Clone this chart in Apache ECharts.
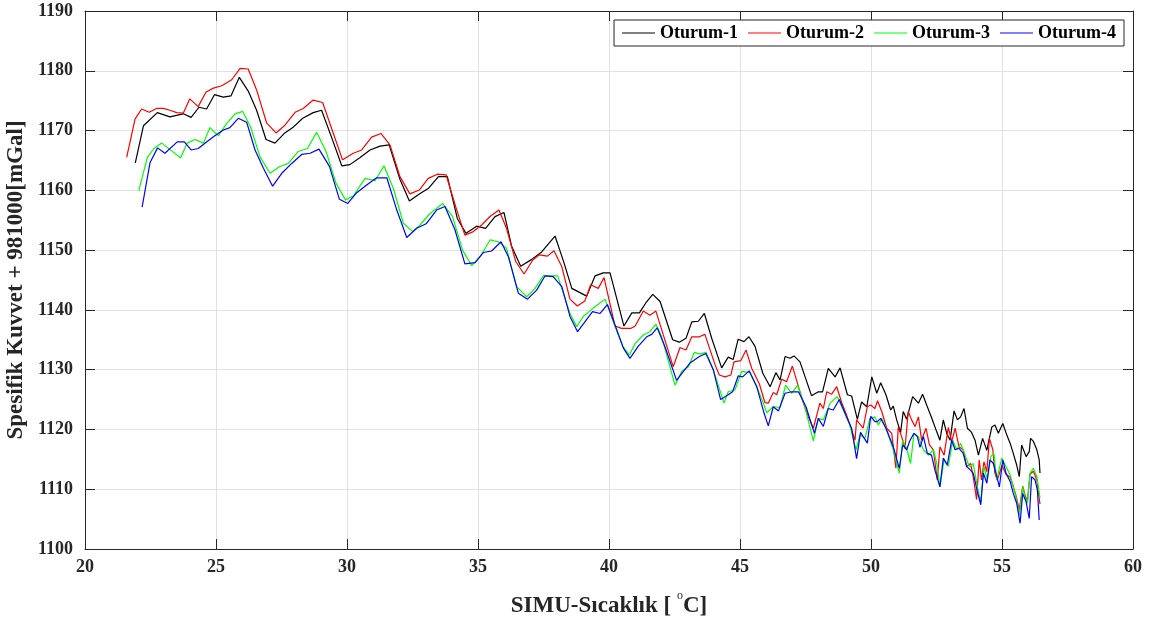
<!DOCTYPE html>
<html>
<head>
<meta charset="utf-8">
<script src="https://cdn.jsdelivr.net/npm/echarts@6/dist/echarts.min.js"></script>
<style>html,body{margin:0;padding:0;background:#fff}#c{width:1154px;height:622px}</style>
</head>
<body>
<div id="c"></div>
<script>
const seriesNames = ['Oturum-1','Oturum-2','Oturum-3','Oturum-4'];
const xTicks = [20,25,30,35,40,45,50,55,60];
const yTicks = [1100,1110,1120,1130,1140,1150,1160,1170,1180,1190];

const tempO1 = [21.92,22.23,22.76,23.24,23.75,24.05,24.35,24.64,24.94,25.28,25.57,25.89,26.23,26.55,26.91,27.25,27.6,27.93,28.31,28.71,29.03,29.45,29.8,30.11,30.5,30.88,31.26,31.61,32.02,32.38,32.76,33.1,33.49,33.83,34.21,34.54,34.95,35.29,35.65,35.99,36.28,36.63,37.05,37.43,37.94,38.28,38.58,39.15,39.47,39.78,40.04,40.57,40.87,41.16,41.41,41.67,41.95,42.43,42.68,42.94,43.16,43.41,43.64,43.92,44.3,44.55,44.74,44.93,45.15,45.34,45.57,45.87,46.15,46.37,46.53,46.72,46.91,47.06,47.29,47.73,47.99,48.15,48.37,48.63,48.82,49.1,49.26,49.48,49.64,49.84,50.03,50.22,50.37,50.57,50.75,50.85,50.98,51.13,51.23,51.36,51.59,51.81,51.97,52.15,52.31,52.51,52.63,52.76,52.89,53.02,53.17,53.3,53.42,53.55,53.68,53.84,53.97,54.1,54.26,54.42,54.61,54.73,54.86,55.03,55.18,55.31,55.43,55.56,55.66,55.75,55.92,56.04,56.09,56.2,56.33,56.42,56.45];
const gravO1 = [1164.6,1170.8,1173.0,1172.3,1172.8,1172.2,1173.9,1173.6,1176.0,1175.6,1175.8,1178.9,1176.6,1173.4,1168.5,1167.9,1169.5,1170.5,1172.05,1173.0,1173.4,1168.4,1164.1,1164.3,1165.5,1166.75,1167.4,1167.6,1161.85,1158.2,1159.4,1160.3,1162.3,1162.3,1155.3,1152.8,1154.0,1153.65,1155.6,1156.3,1150.7,1147.3,1148.45,1149.7,1152.35,1147.9,1143.6,1142.3,1145.7,1146.2,1146.2,1137.3,1139.5,1139.5,1141.2,1142.6,1141.4,1135.0,1134.6,1135.25,1138.0,1138.1,1139.4,1135.25,1130.3,1132.1,1131.7,1135.1,1134.7,1135.5,1133.95,1129.4,1127.15,1129.5,1128.3,1132.2,1131.9,1132.3,1131.3,1125.65,1126.3,1126.3,1130.2,1128.8,1130.3,1125.8,1125.6,1121.7,1124.6,1123.8,1128.8,1126.05,1127.8,1125.8,1123.25,1123.9,1121.6,1119.5,1123.0,1121.7,1125.5,1124.4,1125.9,1123.8,1122.0,1119.6,1118.2,1121.6,1119.35,1118.2,1123.1,1121.6,1122.1,1123.5,1120.2,1119.5,1118.2,1115.7,1118.5,1116.5,1120.4,1120.75,1119.35,1121.0,1119.1,1117.7,1116.0,1114.05,1112.1,1117.4,1115.45,1116.3,1118.5,1118.0,1116.6,1114.9,1112.7];

const tempO2 = [21.59,21.91,22.16,22.45,22.73,22.99,23.24,23.5,23.75,24.0,24.32,24.62,24.9,25.22,25.6,25.92,26.23,26.55,26.93,27.29,27.63,28.02,28.33,28.71,29.07,29.48,29.83,30.24,30.56,30.94,31.3,31.64,32.02,32.4,32.76,33.1,33.45,33.78,34.19,34.5,34.82,35.14,35.48,35.8,36.09,36.44,36.76,37.09,37.34,37.65,37.9,38.2,38.51,38.79,39.08,39.3,39.59,39.81,40.23,40.48,40.83,41.0,41.31,41.56,41.79,42.45,42.71,42.94,43.16,43.45,43.66,44.05,44.21,44.43,44.65,44.77,45.03,45.23,45.45,45.74,45.95,46.08,46.27,46.4,46.59,46.78,47.0,47.23,47.42,47.61,47.8,48.05,48.18,48.31,48.5,48.69,48.88,49.07,49.39,49.45,49.7,49.86,49.99,50.15,50.25,50.41,50.6,50.79,50.95,51.04,51.17,51.3,51.42,51.55,51.68,51.81,51.93,52.1,52.23,52.38,52.53,52.63,52.79,52.95,53.08,53.21,53.36,53.52,53.65,53.8,53.9,54.03,54.13,54.22,54.31,54.42,54.52,54.65,54.73,54.82,55.0,55.15,55.31,55.43,55.56,55.66,55.79,55.88,55.97,56.07,56.2,56.33,56.45];
const gravO2 = [1165.5,1171.9,1173.6,1173.05,1173.7,1173.7,1173.4,1173.0,1172.9,1175.3,1174.0,1176.45,1177.1,1177.5,1178.5,1180.4,1180.3,1176.8,1171.3,1169.6,1170.9,1173.05,1173.7,1175.1,1174.7,1169.5,1165.1,1166.2,1166.75,1168.9,1169.5,1167.6,1162.3,1159.4,1160.05,1162.0,1162.7,1162.6,1156.7,1152.5,1153.1,1154.2,1155.7,1156.7,1153.6,1148.1,1146.0,1148.35,1149.2,1149.0,1149.9,1147.2,1141.8,1140.65,1141.5,1144.2,1143.6,1145.4,1137.3,1136.9,1136.9,1137.3,1139.8,1139.1,1139.8,1130.5,1133.7,1133.3,1135.5,1135.5,1135.9,1130.8,1129.1,1128.8,1129.1,1131.3,1131.5,1133.3,1130.2,1127.6,1124.5,1124.4,1126.2,1125.8,1128.4,1128.0,1130.6,1127.15,1124.4,1122.1,1120.2,1124.4,1123.5,1126.3,1125.9,1127.15,1124.5,1122.4,1118.2,1121.6,1120.2,1123.8,1124.1,1123.5,1124.8,1123.0,1120.2,1119.35,1113.5,1120.35,1118.8,1116.85,1123.0,1121.6,1120.5,1122.1,1118.2,1120.2,1117.4,1116.6,1111.55,1117.1,1115.7,1120.35,1117.95,1120.2,1117.1,1116.6,1113.8,1114.3,1112.1,1108.3,1114.9,1111.55,1114.6,1112.95,1118.5,1116.6,1112.7,1111.55,1114.0,1112.5,1112.0,1110.5,1108.5,1106.5,1110.5,1109.0,1108.0,1112.5,1113.0,1111.5,1107.5];

const tempO3 = [22.05,22.38,22.63,22.93,23.31,23.65,23.9,24.2,24.52,24.77,25.09,25.41,25.73,26.02,26.32,26.68,27.06,27.42,27.76,28.14,28.49,28.84,29.2,29.58,29.94,30.24,30.69,31.07,31.41,31.77,32.15,32.51,32.79,33.14,33.65,34.03,34.41,34.76,35.08,35.46,35.77,36.09,36.47,36.86,37.18,37.49,38.04,38.51,38.77,39.02,39.4,39.85,40.23,40.52,40.78,41.0,41.31,41.56,41.79,42.01,42.52,42.77,43.03,43.26,43.47,43.7,43.98,44.39,44.55,44.81,45.06,45.38,45.64,45.89,46.02,46.27,46.53,46.74,46.97,47.2,47.45,47.8,47.99,48.18,48.44,48.71,48.94,49.17,49.43,49.58,49.77,49.96,50.15,50.28,50.41,50.6,50.85,51.08,51.21,51.36,51.51,51.64,51.81,52.0,52.19,52.38,52.51,52.63,52.79,52.95,53.12,53.27,53.42,53.59,53.75,53.9,54.06,54.19,54.31,54.44,54.57,54.69,54.8,54.99,55.15,55.31,55.43,55.56,55.66,55.79,55.88,55.97,56.07,56.2,56.33,56.45];
const gravO3 = [1159.9,1165.5,1167.0,1167.9,1166.6,1165.4,1167.9,1168.5,1167.9,1170.5,1169.1,1171.2,1172.8,1173.2,1170.6,1165.6,1162.85,1163.95,1164.5,1166.5,1167.0,1169.7,1166.5,1161.2,1158.4,1159.05,1162.0,1161.6,1164.1,1160.3,1154.5,1153.1,1154.2,1156.0,1157.8,1155.6,1150.0,1147.4,1148.9,1151.7,1151.4,1150.3,1143.9,1142.2,1143.6,1145.7,1145.7,1139.4,1137.2,1138.9,1140.3,1141.8,1137.2,1133.95,1132.45,1134.4,1135.8,1136.35,1137.6,1135.5,1127.4,1129.7,1130.5,1132.9,1132.6,1132.9,1130.0,1124.4,1126.3,1126.6,1129.7,1129.5,1127.15,1124.4,1122.8,1123.8,1123.7,1127.4,1126.05,1127.4,1124.2,1118.1,1121.85,1121.6,1124.4,1125.5,1123.25,1121.0,1116.6,1119.1,1118.5,1121.85,1122.1,1120.75,1121.85,1119.9,1116.6,1112.7,1118.2,1116.85,1114.3,1119.35,1118.8,1116.6,1115.7,1116.6,1114.3,1110.4,1114.9,1113.8,1118.2,1116.6,1117.7,1115.7,1113.8,1114.3,1110.4,1107.9,1113.8,1111.55,1115.45,1116.0,1111.55,1115.2,1113.8,1112.4,1110.4,1108.2,1105.7,1110.4,1108.75,1107.65,1112.7,1113.5,1112.1,1108.5];

const tempO4 = [22.18,22.48,22.77,23.05,23.52,23.79,24.05,24.32,24.64,24.94,25.28,25.53,25.85,26.17,26.49,26.81,27.16,27.51,27.89,28.27,28.59,28.93,29.33,29.71,30.03,30.37,30.75,31.13,31.52,31.9,32.28,32.66,33.02,33.42,33.74,34.12,34.5,34.89,35.2,35.52,35.88,36.16,36.54,36.89,37.24,37.56,37.87,38.2,38.51,38.8,39.08,39.37,39.66,39.94,40.29,40.55,40.8,41.12,41.44,41.63,41.84,42.14,42.58,42.84,43.09,43.45,43.7,43.98,44.26,44.55,44.72,44.93,45.1,45.35,45.64,45.92,46.08,46.27,46.47,46.72,46.97,47.23,47.52,47.84,47.99,48.18,48.37,48.56,48.79,49.07,49.26,49.45,49.6,49.86,49.99,50.15,50.24,50.37,50.57,50.85,51.08,51.21,51.36,51.49,51.64,51.77,51.87,52.0,52.15,52.31,52.44,52.63,52.76,52.91,53.08,53.21,53.36,53.52,53.65,53.8,53.9,54.06,54.19,54.29,54.42,54.54,54.67,54.8,54.9,55.03,55.15,55.31,55.43,55.56,55.69,55.79,55.92,56.04,56.13,56.26,56.35,56.42];
const gravO4 = [1157.2,1164.6,1167.1,1166.2,1168.1,1168.1,1166.75,1167.0,1168.1,1169.1,1170.1,1170.5,1172.05,1171.4,1166.75,1163.7,1160.7,1162.85,1164.5,1166.0,1166.2,1166.9,1164.0,1158.5,1157.8,1159.6,1160.9,1162.1,1162.1,1156.7,1152.1,1153.65,1154.4,1156.7,1157.3,1153.4,1147.7,1147.9,1149.6,1149.85,1151.4,1148.9,1142.8,1141.8,1143.3,1145.7,1145.55,1143.9,1138.9,1136.35,1138.0,1139.7,1139.4,1140.9,1136.75,1133.6,1131.9,1133.95,1135.5,1135.9,1137.0,1133.8,1128.2,1129.7,1131.1,1132.2,1132.7,1130.0,1125.0,1125.8,1126.3,1128.95,1128.8,1129.8,1127.15,1122.7,1120.6,1123.8,1123.1,1126.05,1126.3,1126.3,1123.8,1119.35,1121.85,1120.5,1123.5,1123.25,1125.0,1122.1,1120.2,1115.1,1119.5,1117.7,1122.2,1121.3,1121.3,1121.85,1120.2,1117.1,1113.5,1117.4,1116.6,1118.2,1119.35,1118.8,1117.0,1118.8,1116.0,1115.7,1113.2,1110.4,1115.2,1114.05,1118.2,1116.6,1116.85,1116.0,1113.8,1113.2,1112.7,1109.6,1107.4,1112.7,1111.0,1114.9,1114.3,1112.1,1110.4,1114.9,1112.7,1111.3,1109.3,1107.65,1104.3,1109.3,1107.9,1105.1,1112.1,1111.55,1109.9,1104.85];

const seriesTemps = [tempO1, tempO2, tempO3, tempO4];
const seriesGravs = [gravO1, gravO2, gravO3, gravO4];
const seriesColors = ['#000000','#ff0000','#00ff00','#0000ff'];

const FONT = "'Liberation Serif','Times New Roman',serif";
const chart = echarts.init(document.getElementById('c'), null, {renderer:'canvas'});

const zip = (xs, ys) => xs.map((x, i) => [x, ys[i]]);

const axisCommon = {
  axisLine: {show: true, onZero: false, lineStyle: {color: '#262626', width: 1}},
  axisTick: {show: true, inside: true, length: 10, lineStyle: {color: '#262626', width: 1}}
};

chart.setOption({
  animation: false,
  backgroundColor: '#ffffff',
  grid: {left: 85, right: 21, top: 11, bottom: 73, containLabel: false, outerBoundsMode: 'none'},
  legend: {
    data: seriesNames,
    right: 30, top: 20,
    orient: 'horizontal',
    icon: 'rect',
    itemWidth: 33, itemHeight: 1.2, itemGap: 10,
    padding: [4, 8],
    borderColor: '#262626', borderWidth: 1, backgroundColor: '#ffffff',
    textStyle: {fontFamily: FONT, fontWeight: 'bold', fontSize: 18, color: '#000', lineHeight: 17}
  },
  xAxis: [{
    type: 'value', min: xTicks[0], max: xTicks[xTicks.length-1], interval: 5,
    ...axisCommon,
    axisLabel: {fontFamily: FONT, fontWeight: 'bold', fontSize: 18, color: '#262626', margin: 9},
    splitLine: {show: true, lineStyle: {color: '#e1e1e1', width: 1}},
    name: '{a|SIMU-Sıcaklık [ }{d|o}{a|C]}', nameLocation: 'middle', nameGap: 41,
    nameTextStyle: {
      fontFamily: FONT, fontWeight: 'bold', fontSize: 23, color: '#262626',
      rich: {
        a: {fontFamily: FONT, fontWeight: 'bold', fontSize: 23, color: '#262626', lineHeight: 32},
        d: {fontFamily: FONT, fontWeight: 'normal', fontSize: 12, color: '#262626', lineHeight: 12, verticalAlign: 'top'}
      }
    }
  }, {
    type: 'value', position: 'top', min: xTicks[0], max: xTicks[xTicks.length-1], interval: 5,
    ...axisCommon, axisLabel: {show: false}, splitLine: {show: false}
  }],
  yAxis: [{
    type: 'value', min: yTicks[0], max: yTicks[yTicks.length-1], interval: 10,
    ...axisCommon,
    axisLabel: {fontFamily: FONT, fontWeight: 'bold', fontSize: 18, color: '#262626', margin: 12,
      formatter: v => String(v)},
    splitLine: {show: true, lineStyle: {color: '#e1e1e1', width: 1}},
    name: 'Spesifik Kuvvet + 981000[mGal]', nameLocation: 'middle', nameGap: 48,
    nameTextStyle: {fontFamily: FONT, fontWeight: 'bold', fontSize: 23, color: '#262626'}
  }, {
    type: 'value', position: 'right', min: yTicks[0], max: yTicks[yTicks.length-1], interval: 10,
    ...axisCommon, axisLabel: {show: false}, splitLine: {show: false}
  }],
  series: seriesNames.map((n, i) => ({
    name: n, type: 'line', xAxisIndex: 0, yAxisIndex: 0,
    data: zip(seriesTemps[i], seriesGravs[i]),
    symbol: 'none', showSymbol: false,
    lineStyle: {color: seriesColors[i], width: 1.2},
    itemStyle: {color: seriesColors[i]},
    z: 2 + i
  }))
});
</script>
</body>
</html>
